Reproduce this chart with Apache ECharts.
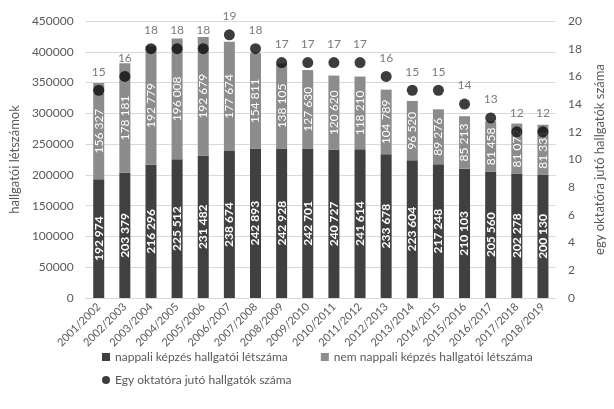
<!DOCTYPE html>
<html>
<head>
<meta charset="utf-8">
<script src="https://cdn.jsdelivr.net/npm/echarts@6/dist/echarts.min.js"></script>
<style>
  html, body { margin: 0; padding: 0; background: #fff; }
  #chart { width: 614px; height: 409px; }
</style>
</head>
<body>
<div id="chart"></div>
<script>
// Academic years
var years = ['2001/2002', '2002/2003', '2003/2004', '2004/2005', '2005/2006', '2006/2007',
  '2007/2008', '2008/2009', '2009/2010', '2010/2011', '2011/2012', '2012/2013',
  '2013/2014', '2014/2015', '2015/2016', '2016/2017', '2017/2018', '2018/2019'];

// Full-time students
var nappali = [192974, 203379, 216296, 225512, 231482, 238674, 242893, 242928, 242701,
  240727, 241614, 233678, 223604, 217248, 210103, 205560, 202278, 200130];

// Part-time / other students
var nemNappali = [156327, 178181, 192779, 196008, 192679, 177674, 154811, 138105, 127630,
  120620, 118210, 104789, 96520, 89276, 85213, 81458, 81072, 81331];

// Students per lecturer
var perOktato = [15, 16, 18, 18, 18, 19, 18, 17, 17, 17, 17, 16, 15, 15, 14, 13, 12, 12];

var FONT = 'Lato, "Open Sans", sans-serif';
var AXIS_TEXT = '#595959';

function spaced(v) {
  return String(v).replace(/\B(?=(\d{3})+(?!\d))/g, ' ');
}

var chart = echarts.init(document.getElementById('chart'), null, { renderer: 'canvas' });

chart.setOption({
  animation: false,
  textStyle: { fontFamily: FONT },
  grid: { left: 78, right: 58, top: 21, bottom: 111, containLabel: false },
  legend: [
    {
      left: 97, top: 346,
      itemWidth: 8, itemHeight: 8, itemGap: 33,
      textStyle: { color: AXIS_TEXT, fontSize: 12, fontFamily: FONT },
      data: [
        { name: 'nappali képzés hallgatói létszáma', icon: 'rect' },
        { name: 'nem nappali képzés hallgatói létszáma', icon: 'rect' }
      ]
    },
    {
      left: 97, top: 369,
      itemWidth: 8, itemHeight: 8,
      textStyle: { color: AXIS_TEXT, fontSize: 12, fontFamily: FONT },
      data: [{ name: 'Egy oktatóra jutó hallgatók száma', icon: 'circle' }]
    }
  ],
  xAxis: {
    type: 'category',
    data: years,
    axisLine: { lineStyle: { color: '#d9d9d9', width: 1 } },
    axisTick: { show: false },
    axisLabel: { rotate: 45, color: AXIS_TEXT, fontSize: 11, margin: 7, interval: 0 }
  },
  yAxis: [
    {
      type: 'value', min: 0, max: 450000, interval: 50000,
      name: 'hallgatói létszámok', nameLocation: 'middle', nameGap: 61, nameRotate: 90,
      nameTextStyle: { color: AXIS_TEXT, fontSize: 13 },
      axisLine: { show: false }, axisTick: { show: false },
      axisLabel: { color: AXIS_TEXT, fontSize: 12, margin: 12, formatter: function (v) { return String(v); } },
      splitLine: { lineStyle: { color: '#d9d9d9', width: 1 } }
    },
    {
      type: 'value', min: 0, max: 20, interval: 2,
      name: 'egy oktatóra jutó hallgatók száma', nameLocation: 'middle', nameGap: 34, nameRotate: 90,
      nameTextStyle: { color: AXIS_TEXT, fontSize: 13 },
      axisLine: { show: false }, axisTick: { show: false },
      axisLabel: { color: AXIS_TEXT, fontSize: 12, margin: 12 },
      splitLine: { show: false }
    }
  ],
  series: [
    {
      name: 'nappali képzés hallgatói létszáma',
      type: 'bar', stack: 'total', barWidth: 11,
      itemStyle: { color: '#404040' },
      label: {
        show: true, position: 'inside', rotate: 90, color: '#ffffff',
        fontSize: 12, fontWeight: 'bold',
        formatter: function (p) { return spaced(p.value); }
      },
      data: nappali
    },
    {
      name: 'nem nappali képzés hallgatói létszáma',
      type: 'bar', stack: 'total', barWidth: 11,
      itemStyle: { color: '#8c8c8c' },
      label: {
        show: true, position: 'inside', rotate: 90, color: '#ffffff',
        fontSize: 12,
        formatter: function (p) { return spaced(p.value); }
      },
      data: nemNappali
    },
    {
      name: 'Egy oktatóra jutó hallgatók száma',
      type: 'scatter', yAxisIndex: 1, symbol: 'circle', symbolSize: 11,
      itemStyle: { color: '#0d0d0d' },
      label: { show: true, position: 'top', distance: 7, color: AXIS_TEXT, fontSize: 12 },
      z: 3,
      data: perOktato
    }
  ]
});
</script>
</body>
</html>
